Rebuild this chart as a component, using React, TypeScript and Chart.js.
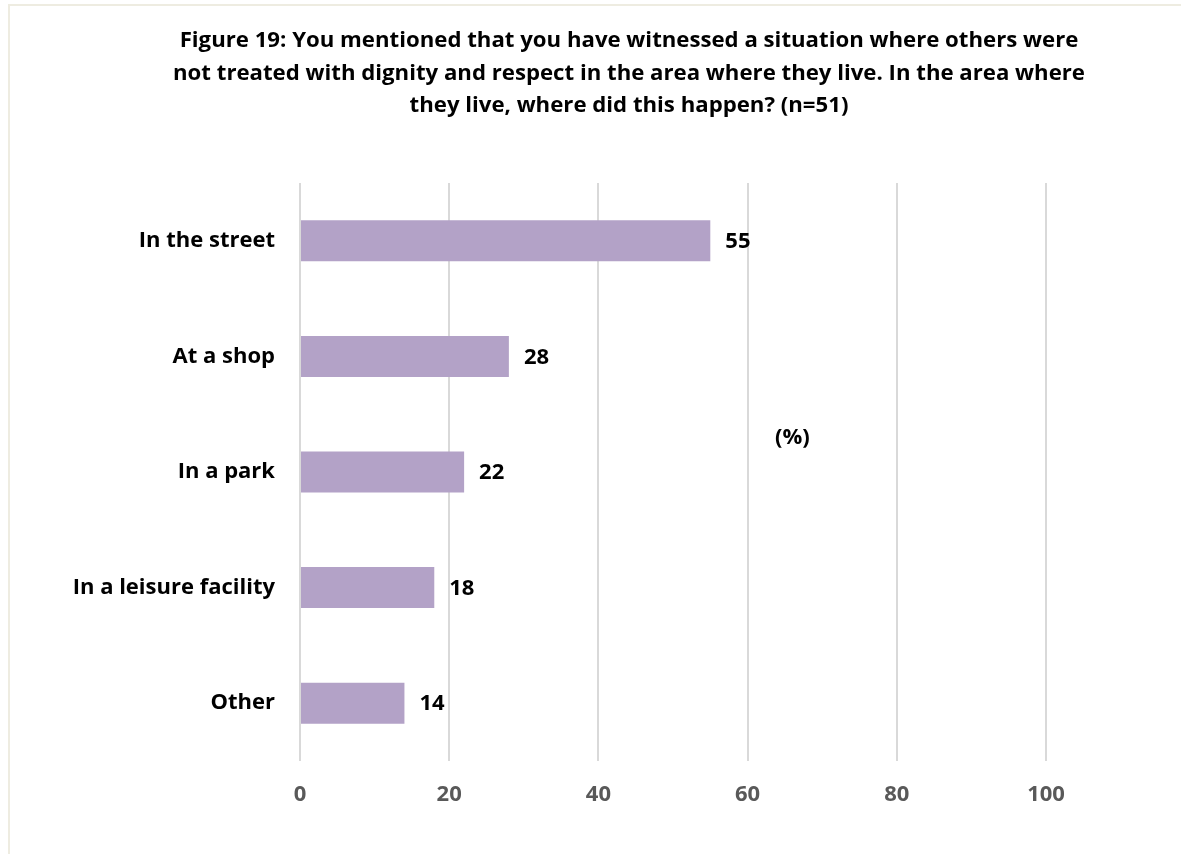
import React, { useEffect, useRef } from "react";
import { Chart, registerables } from "chart.js";

Chart.register(...registerables);

const categories = ["In the street", "At a shop", "In a park", "In a leisure facility", "Other"];
const values = [55, 28, 22, 18, 14];
const xTicks = [0, 20, 40, 60, 80, 100];
const titleLines = [
  "Figure 19: You mentioned that you have witnessed a situation where others were",
  "not treated with dignity and respect in the area where they live. In the area where",
  "they live, where did this happen? (n=51)",
];
const axisUnit = "(%)";

const FONT = "'Open Sans', Lato, sans-serif";

const titlePlugin = {
  id: "customTitle",
  afterDraw(chart: any) {
    const { ctx } = chart;
    ctx.save();
    ctx.font = `bold 22.2px ${FONT}`;
    ctx.fillStyle = "#000000";
    ctx.textAlign = "center";
    ctx.textBaseline = "alphabetic";
    const cx = 629;
    const base = 47;
    const lh = 32.5;
    titleLines.forEach((line, i) => ctx.fillText(line, cx, base + i * lh));
    ctx.restore();
  },
};

const labelPlugin = {
  id: "valueLabels",
  afterDatasetsDraw(chart: any) {
    const { ctx, chartArea } = chart;
    const meta = chart.getDatasetMeta(0);
    ctx.save();
    ctx.font = `bold 22px ${FONT}`;
    ctx.fillStyle = "#000000";
    ctx.textAlign = "left";
    ctx.textBaseline = "middle";
    meta.data.forEach((bar: any, i: number) => {
      ctx.fillText(String(values[i]), bar.x + 15, bar.y + 1);
    });
    const xs = chart.scales.x;
    ctx.textAlign = "center";
    ctx.fillText(axisUnit, xs.getPixelForValue(66), chartArea.top + (chartArea.bottom - chartArea.top) * 0.44);
    ctx.restore();
  },
};

export default function App() {
  const ref = useRef<HTMLCanvasElement | null>(null);
  useEffect(() => {
    if (!ref.current) return;
    const chart = new Chart(ref.current, {
      type: "bar",
      data: {
        labels: categories,
        datasets: [
          {
            data: values,
            backgroundColor: "#b3a2c7",
            borderWidth: 0,
            categoryPercentage: 1,
            barPercentage: 0.355,
          },
        ],
      },
      options: {
        indexAxis: "y",
        animation: false,
        responsive: false,
        maintainAspectRatio: false,
        layout: { padding: { left: 0, right: 135, top: 183, bottom: 33 } },
        plugins: {
          legend: { display: false },
          tooltip: { enabled: false },
          title: { display: false },
        },
        scales: {
          x: {
            min: 0,
            max: 100,
            afterBuildTicks: (scale: any) => {
              scale.ticks = xTicks.map((v) => ({ value: v }));
            },
            afterFit: (scale: any) => {
              scale.height = 60;
            },
            grid: { color: "#d9d9d9", lineWidth: 2, drawTicks: false },
            border: { display: false },
            ticks: {
              color: "#595959",
              padding: 21,
              font: { family: FONT, size: 22, weight: "bold" },
            },
          },
          y: {
            afterFit: (scale: any) => {
              scale.width = 300;
            },
            grid: { display: false, drawTicks: false },
            border: { display: false },
            ticks: {
              color: "#000000",
              padding: 25,
              font: { family: FONT, size: 22, weight: "bold" },
            },
          },
        },
      },
      plugins: [labelPlugin, titlePlugin],
    });
    return () => chart.destroy();
  }, []);

  return (
    <div style={{ position: "fixed", left: 0, top: 0, width: 1181, height: 854, overflow: "hidden", background: "#ffffff" }}>
      <div
        style={{
          position: "absolute",
          left: 8,
          top: 4,
          width: 1200,
          height: 900,
          border: "2px solid #eeece1",
          boxSizing: "border-box",
        }}
      />
      <canvas ref={ref} width={1181} height={854} style={{ position: "absolute", left: 0, top: 0 }} />
    </div>
  );
}
